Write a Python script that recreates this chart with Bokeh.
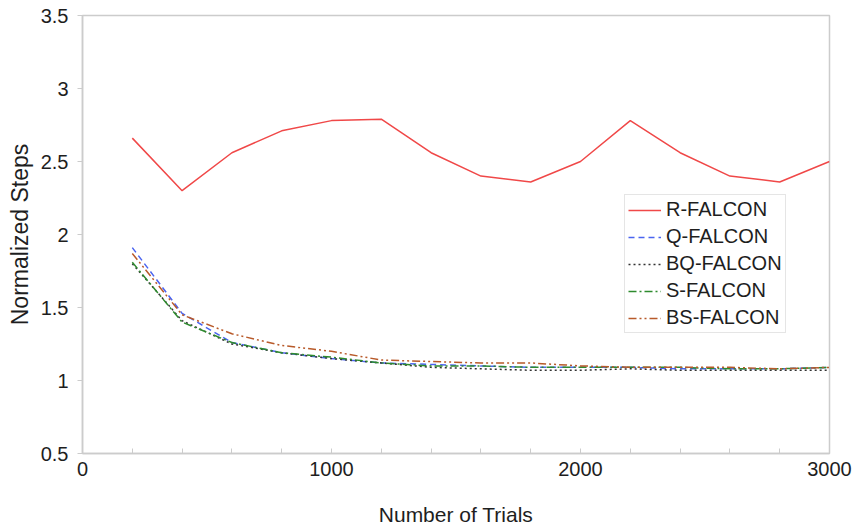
from bokeh.plotting import figure
from bokeh.models import FixedTicker, Legend, LegendItem, Range1d
from bokeh.embed import file_html
from bokeh.resources import INLINE

trials = [200, 400, 600, 800, 1000, 1200, 1400, 1600, 1800, 2000, 2200, 2400, 2600, 2800, 3000]
r_falcon = [2.66, 2.30, 2.56, 2.71, 2.78, 2.79, 2.56, 2.40, 2.36, 2.50, 2.78, 2.56, 2.40, 2.36, 2.50]
q_falcon = [1.91, 1.46, 1.26, 1.19, 1.15, 1.12, 1.11, 1.10, 1.09, 1.09, 1.09, 1.08, 1.08, 1.08, 1.09]
bq_falcon = [1.80, 1.41, 1.25, 1.19, 1.15, 1.12, 1.09, 1.08, 1.07, 1.07, 1.08, 1.07, 1.07, 1.07, 1.07]
s_falcon = [1.81, 1.40, 1.26, 1.19, 1.16, 1.12, 1.10, 1.10, 1.09, 1.09, 1.09, 1.09, 1.08, 1.08, 1.09]
bs_falcon = [1.87, 1.45, 1.32, 1.24, 1.20, 1.14, 1.13, 1.12, 1.12, 1.10, 1.09, 1.09, 1.09, 1.08, 1.09]

x_ticks = [0, 1000, 2000, 3000]
x_minor = [200, 400, 600, 800, 1200, 1400, 1600, 1800, 2200, 2400, 2600, 2800]
y_ticks = [0.5, 1, 1.5, 2, 2.5, 3, 3.5]

FONT = "Liberation Sans"
TXT = "#1e1e1e"
GRAY = "#cccccc"

p = figure(width=852, height=529, output_backend="svg", toolbar_location=None,
           x_range=Range1d(0, 3000), y_range=Range1d(0.5, 3.5),
           min_border_left=82, min_border_right=23, min_border_top=15, min_border_bottom=76)
p.xgrid.visible = False
p.ygrid.visible = False
p.outline_line_color = GRAY
p.outline_line_width = 1.5
p.background_fill_color = "white"
p.border_fill_color = "white"

p.xaxis.ticker = FixedTicker(ticks=x_ticks, minor_ticks=x_minor)
p.yaxis.ticker = FixedTicker(ticks=y_ticks)
p.yaxis.major_label_overrides = {0.5: "0.5", 1: "1", 1.5: "1.5", 2: "2", 2.5: "2.5", 3: "3", 3.5: "3.5"}

for ax in (p.xaxis[0], p.yaxis[0]):
    ax.axis_line_color = GRAY
    ax.axis_line_width = 1.5
    ax.major_tick_line_color = GRAY
    ax.minor_tick_line_color = GRAY
    ax.major_label_text_font = FONT
    ax.major_label_text_color = TXT
    ax.axis_label_text_font = FONT
    ax.axis_label_text_font_style = "normal"
    ax.axis_label_text_color = TXT

p.xaxis.major_label_text_font_size = "20px"
p.yaxis.major_label_text_font_size = "20px"
p.xaxis.axis_label_text_font_size = "21px"
p.yaxis.axis_label_text_font_size = "23px"

p.xaxis.major_tick_in = 5
p.xaxis.major_tick_out = 0
p.xaxis.minor_tick_in = 5
p.xaxis.minor_tick_out = 0
p.xaxis.major_label_standoff = 8
p.xaxis.axis_label = "Number of Trials"
p.xaxis.axis_label_standoff = 24

p.yaxis.major_tick_in = 0
p.yaxis.major_tick_out = 5
p.yaxis.minor_tick_in = 0
p.yaxis.minor_tick_out = 0
p.yaxis.major_label_standoff = 9
p.yaxis.axis_label = "Normalized Steps"
p.yaxis.axis_label_standoff = 5

r1 = p.line(trials, r_falcon, line_color="#f04848", line_width=1.5)
r2 = p.line(trials, q_falcon, line_color="#4a64f0", line_width=1.5, line_dash="6 4")
r3 = p.line(trials, bq_falcon, line_color="#333333", line_width=1.5, line_dash="2 3")
r4 = p.line(trials, s_falcon, line_color="#2e8b2e", line_width=1.5, line_dash="8 3 2 3")
r5 = p.line(trials, bs_falcon, line_color="#b85a2a", line_width=1.5, line_dash="8 3 2 3 2 3")

legend = Legend(items=[
    LegendItem(label="R-FALCON", renderers=[r1]),
    LegendItem(label="Q-FALCON", renderers=[r2]),
    LegendItem(label="BQ-FALCON", renderers=[r3]),
    LegendItem(label="S-FALCON", renderers=[r4]),
    LegendItem(label="BS-FALCON", renderers=[r5]),
], location=(542, 120))
legend.label_text_font = FONT
legend.label_text_font_size = "20px"
legend.label_text_color = TXT
legend.border_line_color = GRAY
legend.border_line_width = 1.5
legend.padding = 3
legend.spacing = 4
legend.glyph_height = 20
legend.label_height = 20
legend.glyph_width = 33
legend.label_standoff = 5
legend.margin = 0
p.add_layout(legend, "center")

open("out.html", "w").write(file_html(p, INLINE))
